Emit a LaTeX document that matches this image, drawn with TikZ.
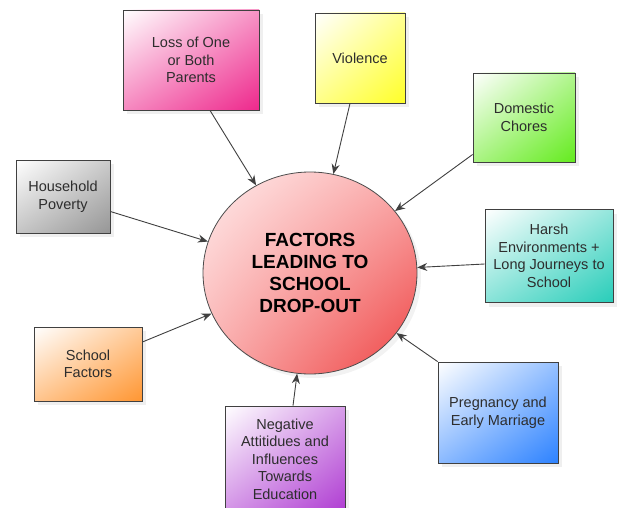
\documentclass[tikz,border=0pt]{standalone}
\usepackage{fontspec}
\setmainfont{Liberation Sans}
\usetikzlibrary{arrows.meta,shapes.geometric,shadows,shadings}
\definecolor{cpink}{RGB}{238,40,140}
\definecolor{cyellow}{RGB}{255,255,40}
\definecolor{cgreen}{RGB}{100,235,30}
\definecolor{cteal}{RGB}{40,205,185}
\definecolor{cblue}{RGB}{45,130,255}
\definecolor{cpurple}{RGB}{175,60,210}
\definecolor{corange}{RGB}{255,150,50}
\definecolor{cgray}{RGB}{150,150,150}
\definecolor{cred}{RGB}{238,65,65}
\definecolor{hubul}{RGB}{255,236,236}
\definecolor{hubur}{RGB}{250,170,170}
\definecolor{hubll}{RGB}{250,175,175}
\definecolor{txt}{RGB}{45,45,45}
\tikzset{
  grad/.style={upper left=white, upper right=#1!50!white, lower left=#1!55!white, lower right=#1},
  factor/.style={draw=black!75, line width=0.8pt, align=center, inner sep=0pt,
    font=\fontsize{14.5}{17.5}\selectfont, text=txt,
    drop shadow={opacity=0.12, shadow xshift=4pt, shadow yshift=-4pt}},
  hub/.style={ellipse, draw=black!70, line width=0.8pt, align=center, inner sep=0pt,
    minimum width=214pt, minimum height=202pt,
    font=\fontsize{19}{21.7}\selectfont\bfseries,
    upper left=hubul, upper right=hubur, lower left=hubll, lower right=cred,
    drop shadow={opacity=0.1, shadow xshift=4pt, shadow yshift=-4pt}},
  conn/.style={draw=black!75, line width=0.9pt, -{Stealth[length=10pt,width=8pt]}}
}
\begin{document}
\begin{tikzpicture}[x=1pt,y=-1pt]
\fill[white] (0,0) rectangle (618,508);
\useasboundingbox (0,0) rectangle (618,508);

\node[hub] (c) at (310,273) {FACTORS\\LEADING TO\\SCHOOL\\DROP-OUT};

\node[factor, grad=cpink, minimum width=136pt, minimum height=100pt] (loss) at (191,60) {Loss of One\\or Both\\Parents};
\node[factor, grad=cyellow, minimum width=90pt, minimum height=90pt] (vio) at (360,58) {Violence};
\node[factor, grad=cgreen, minimum width=102pt, minimum height=89pt] (dom) at (524,117.5) {Domestic\\Chores};
\node[factor, grad=cteal, minimum width=128pt, minimum height=93pt] (harsh) at (549,256) {Harsh\\Environments +\\Long Journeys to\\School};
\node[factor, grad=cblue, minimum width=120pt, minimum height=101pt] (preg) at (498,412.5) {Pregnancy and\\Early Marriage};
\node[factor, grad=cpurple, minimum width=120pt, minimum height=106pt] (neg) at (285,459) {Negative\\Attitidues and\\Influences\\Towards\\Education};
\node[factor, grad=corange, minimum width=108pt, minimum height=74pt] (school) at (88,364) {School\\Factors};
\node[factor, grad=cgray, minimum width=94pt, minimum height=73pt] (house) at (63,196.5) {Household\\Poverty};

\draw[conn] ([xshift=19pt]loss.south) -- (c);
\draw[conn] ([xshift=-10pt]vio.south) -- (c);
\draw[conn] ([yshift=-37pt]dom.west) -- (c);
\draw[conn] ([yshift=-8pt]harsh.west) -- (c);
\draw[conn] (preg.north west) -- (c);
\draw[conn] ([xshift=8pt]neg.north) -- (c);
\draw[conn] ([yshift=22pt]school.east) -- (c);
\draw[conn] ([yshift=-15pt]house.east) -- (c);
\end{tikzpicture}
\end{document}
